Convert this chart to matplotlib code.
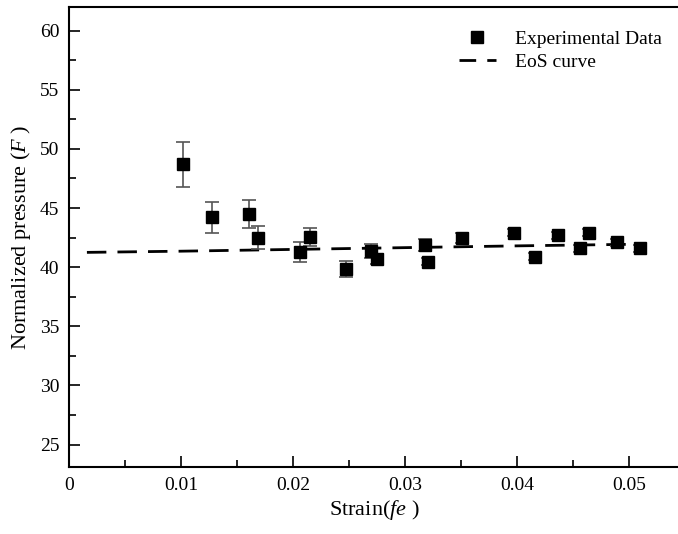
import matplotlib
matplotlib.use("Agg")
import matplotlib.pyplot as plt
from matplotlib.ticker import MultipleLocator
from matplotlib.lines import Line2D

plt.rcParams['font.family'] = ['Liberation Serif', 'DejaVu Serif']
plt.rcParams['mathtext.fontset'] = 'custom'
plt.rcParams['mathtext.rm'] = 'Liberation Serif'
plt.rcParams['mathtext.it'] = 'Liberation Serif:italic'

# Experimental data
strain = [0.0102, 0.0128, 0.0161, 0.0169, 0.0206, 0.0215, 0.0247, 0.0270, 0.0275,
          0.0318, 0.0321, 0.0351, 0.0397, 0.0416, 0.0437, 0.0456, 0.0464, 0.0489, 0.0510]
pressure = [48.7, 44.2, 44.5, 42.5, 41.3, 42.55, 39.85, 41.35, 40.7,
            41.9, 40.45, 42.45, 42.9, 40.9, 42.7, 41.6, 42.9, 42.1, 41.6]
error = [1.9, 1.35, 1.2, 1.0, 0.85, 0.8, 0.65, 0.6, 0.4,
         0.5, 0.3, 0.4, 0.3, 0.3, 0.3, 0.3, 0.3, 0.3, 0.3]

# EoS curve
eos_x = [0.0016, 0.010, 0.020, 0.030, 0.040, 0.0515]
eos_y = [41.25, 41.35, 41.5, 41.65, 41.8, 41.95]

fig = plt.figure(figsize=(6.78, 5.34), dpi=100)
ax = fig.add_axes([69/678, 1-467/534, 1-69/678 + 0.002, (467-7)/534])

dash = (0, (7, 4))
ax.plot(eos_x, eos_y, color='black', lw=2.0, linestyle=dash, zorder=2)
ax.errorbar(strain, pressure, yerr=error, fmt='s', color='black', ms=8.5,
            ecolor='#555555', elinewidth=1.2, capsize=5, capthick=1.2, zorder=3)

ax.set_xlim(0, 0.0545)
ax.set_ylim(23.1, 62.0)
ax.xaxis.set_minor_locator(MultipleLocator(0.005))
ax.yaxis.set_minor_locator(MultipleLocator(2.5))
ax.set_xticks([0, 0.01, 0.02, 0.03, 0.04, 0.05])
ax.set_xticklabels(['0', '0.01', '0.02', '0.03', '0.04', '0.05'])
ax.set_yticks([25, 30, 35, 40, 45, 50, 55, 60])

ax.tick_params(which='both', direction='in', top=False, right=False, labelsize=14, width=1.2)
ax.tick_params(which='major', length=8, pad=7)
ax.tick_params(which='minor', length=5)
for s in ['left', 'bottom', 'top']:
    ax.spines[s].set_linewidth(1.5)
ax.spines['right'].set_visible(False)

ax.set_xlabel(r'Strain($\mathit{fe}$ )', fontsize=16, labelpad=3)
ax.set_ylabel(r'Normalized pressure ($\mathit{F}$ )', fontsize=16, labelpad=5)

h_data = Line2D([], [], marker='s', color='black', linestyle='none', ms=8.5)
h_eos = Line2D([], [], color='black', lw=2.0, linestyle=(0, (6, 4)))
ax.legend([h_data, h_eos], ['Experimental Data', 'EoS curve'], loc='upper right',
          bbox_to_anchor=(1.0, 0.988), frameon=False, fontsize=14,
          handlelength=1.9, handletextpad=1.0, labelspacing=0.3)

fig.savefig('out.png', dpi=100)
